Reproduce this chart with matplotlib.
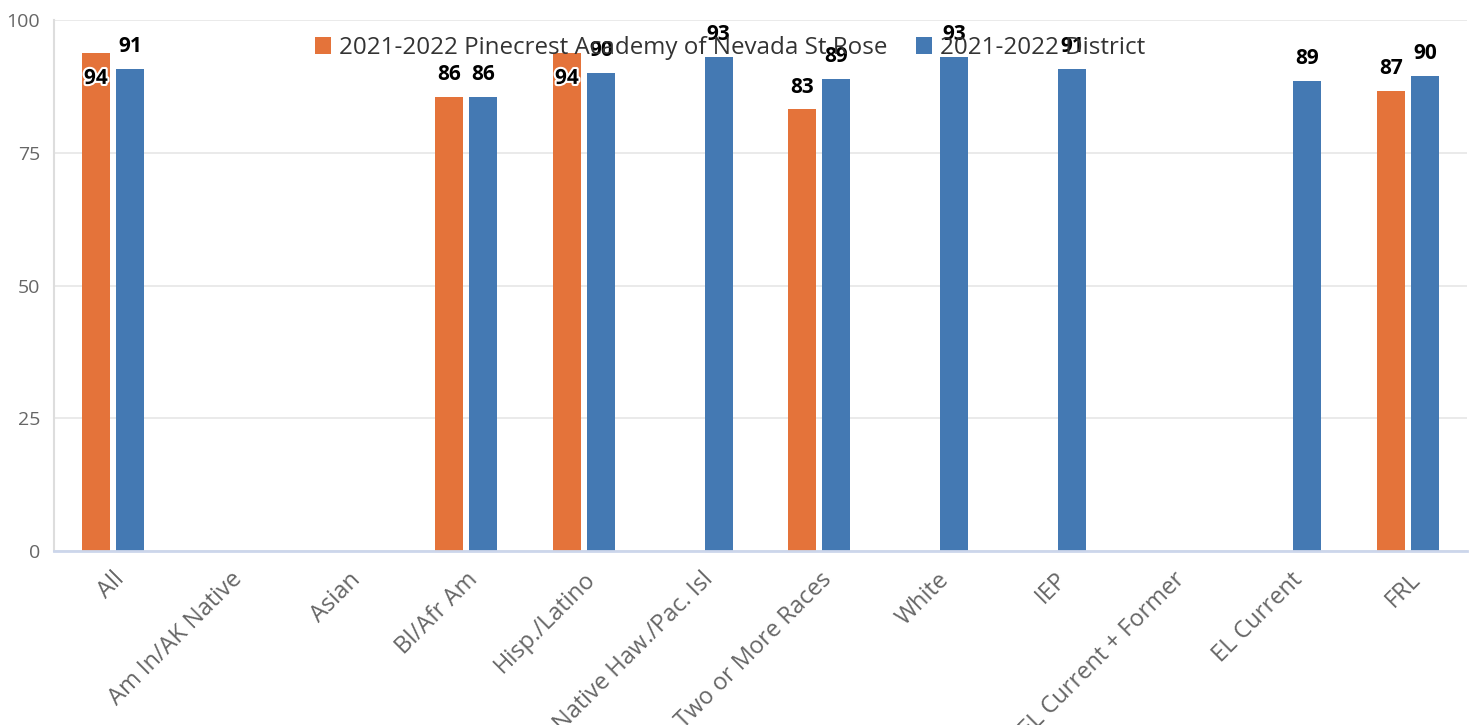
import numpy as np
import matplotlib.pyplot as plt
import matplotlib.patheffects as pe

plt.rcParams["font.family"] = ["Open Sans", "DejaVu Sans"]

# Data
categories = ["All", "Am In/AK Native", "Asian", "Bl/Afr Am", "Hisp./Latino",
              "Native Haw./Pac. Isl", "Two or More Races", "White", "IEP",
              "EL Current + Former", "EL Current", "FRL"]
school = [93.8, np.nan, np.nan, 85.5, 93.8, np.nan, 83.2, np.nan, np.nan,
          np.nan, np.nan, 86.6]
district = [90.8, np.nan, np.nan, 85.5, 90.0, 93.0, 88.9, 93.0, 90.8,
            np.nan, 88.6, 89.5]
series_names = ["2021-2022 Pinecrest Academy of Nevada St Rose",
                "2021-2022 District"]
inside_labels = [0, 4]   # school labels drawn inside the bar

orange = "#e4733a"
blue = "#4479b3"

fig = plt.figure(figsize=(14.75, 7.25), dpi=100)
ax = fig.add_axes([0.0366, 0.24, 0.958, 0.7324])

x = np.arange(len(categories))
width = 0.237
offset = 0.144

ax.bar(x - offset, school, width, color=orange, label=series_names[0], zorder=2)
ax.bar(x + offset, district, width, color=blue, label=series_names[1], zorder=2)

# Data labels
for i, v in enumerate(school):
    if np.isnan(v):
        continue
    if i in inside_labels:
        ax.text(x[i] - offset, v - 4.8, f"{v:.0f}", ha="center", va="center",
                fontsize=15, fontweight="bold", color="black", zorder=5,
                path_effects=[pe.withStroke(linewidth=3, foreground="white")])
    else:
        ax.text(x[i] - offset, v + 2.2, f"{v:.0f}", ha="center", va="bottom",
                fontsize=15, fontweight="bold", color="black", zorder=5)

for i, v in enumerate(district):
    if np.isnan(v):
        continue
    ax.text(x[i] + offset, v + 2.2, f"{v:.0f}", ha="center", va="bottom",
            fontsize=15, fontweight="bold", color="black", zorder=5)

# Axes styling
ax.set_xlim(-0.5, len(categories) - 0.5)
ax.set_ylim(0, 100)
ax.set_yticks([0, 25, 50, 75, 100])
ax.yaxis.grid(True, color="#e6e6e6", linewidth=1.2, zorder=0)
ax.set_axisbelow(True)

ax.set_xticks(x)
ax.set_xticklabels(categories, rotation=45, ha="right", rotation_mode="anchor",
                   fontsize=17, color="#666666")
ax.tick_params(axis="x", length=0, pad=12)
ax.tick_params(axis="y", length=0, pad=10, labelsize=14, labelcolor="#666666")

for side in ["top", "right"]:
    ax.spines[side].set_visible(False)
ax.spines["left"].set_color("#dddddd")
ax.spines["left"].set_linewidth(1.5)
ax.spines["bottom"].set_color("#ccd6eb")
ax.spines["bottom"].set_linewidth(2)

leg = fig.legend(loc="center", bbox_to_anchor=(0.495, 0.934), ncol=2,
                 frameon=False, fontsize=17.4, handlelength=0.66,
                 handleheight=0.66, handletextpad=0.35, columnspacing=1.15,
                 labelcolor="#333333")
leg.set_zorder(4)

fig.savefig("out.png", dpi=100)
